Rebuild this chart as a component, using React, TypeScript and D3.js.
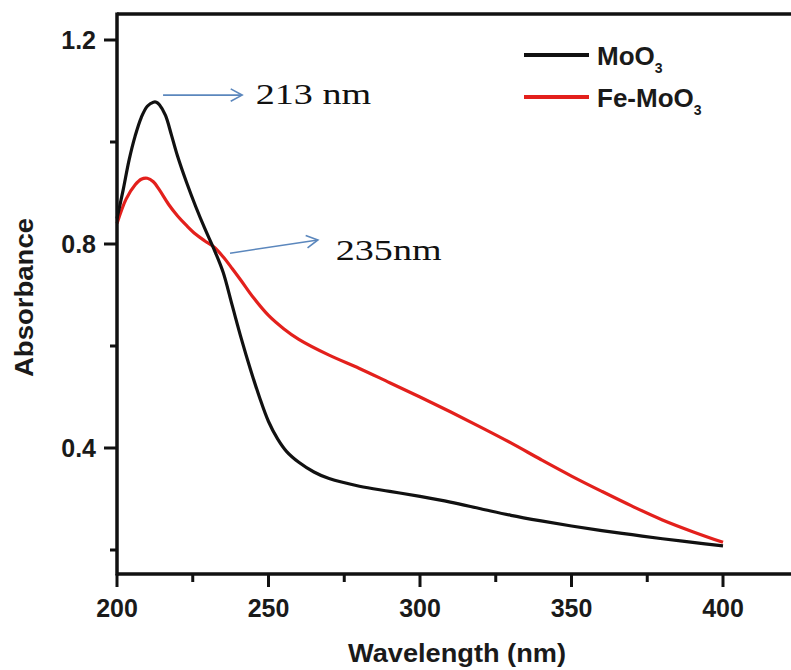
import React from "react";
import * as d3 from "d3";

const wavelengthMoO3 = [200, 202, 204, 206, 208, 210, 212, 213, 214, 216, 218, 220, 223, 226, 229, 232, 235, 238, 241, 244, 247, 250, 253, 256, 260, 265, 270, 280, 290, 300, 310, 320, 330, 340, 350, 360, 370, 380, 390, 400];
const absorbanceMoO3 = [0.85, 0.905, 0.965, 1.012, 1.048, 1.07, 1.078, 1.078, 1.073, 1.052, 1.013, 0.972, 0.92, 0.873, 0.83, 0.79, 0.745, 0.68, 0.615, 0.555, 0.5, 0.452, 0.418, 0.393, 0.372, 0.353, 0.34, 0.325, 0.315, 0.305, 0.294, 0.281, 0.268, 0.257, 0.247, 0.238, 0.23, 0.222, 0.215, 0.208];

const wavelengthFe = [200, 203, 206, 208, 210, 212, 214, 217, 220, 223, 226, 229, 232, 235, 238, 241, 245, 250, 255, 260, 270, 280, 290, 300, 310, 320, 330, 340, 350, 360, 370, 380, 390, 400];
const absorbanceFe = [0.84, 0.888, 0.916, 0.927, 0.929, 0.922, 0.906, 0.878, 0.855, 0.836, 0.819, 0.806, 0.794, 0.775, 0.752, 0.728, 0.695, 0.66, 0.634, 0.613, 0.582, 0.556, 0.528, 0.5, 0.471, 0.441, 0.41, 0.377, 0.345, 0.315, 0.286, 0.259, 0.236, 0.215];

const xMajorTicks = [200, 250, 300, 350, 400];
const xMinorTicks = [225, 275, 325, 375];
const yMajorTicks = [0.4, 0.8, 1.2];
const yMinorTicks = [0.2, 0.6, 1.0];

const seriesNames = ["MoO", "Fe-MoO"];
const seriesColors = ["#111111", "#e3201c"];

const annotations = [
  { from: [215.2, 1.092], to: [241.3, 1.092], label: "213 nm", at: [245.8, 1.074] },
  { from: [237.3, 0.782], to: [266.3, 0.808], label: "235nm", at: [272.2, 0.769] },
];

export default function App() {
  const left = 117;
  const right = 805;
  const top = 14;
  const bottom = 574;
  const x = d3.scaleLinear().domain([200, 200 + (right - left) / 3.03]).range([left, right]);
  const y = d3.scaleLinear().domain([0.4 - (bottom - 448) / 510, 0.4 + (448 - top) / 510]).range([bottom, top]);

  const line = d3
    .line<[number, number]>()
    .x((d) => x(d[0]))
    .y((d) => y(d[1]))
    .curve(d3.curveCatmullRom.alpha(0.5));

  const moo3 = wavelengthMoO3.map((w, i) => [w, absorbanceMoO3[i]] as [number, number]);
  const fe = wavelengthFe.map((w, i) => [w, absorbanceFe[i]] as [number, number]);

  const bold = { fontFamily: "Liberation Sans, Arial, sans-serif", fontWeight: 700 } as const;
  const arrowColor = "#5b87bd";

  return (
    <svg width={791} height={670} style={{ position: "absolute", left: 0, top: 0, background: "#fff" }}>
      {/* curves */}
      <path d={line(fe) || ""} fill="none" stroke={seriesColors[1]} strokeWidth={3.2} />
      <path d={line(moo3) || ""} fill="none" stroke={seriesColors[0]} strokeWidth={3.2} />

      {/* frame */}
      <line x1={left} x2={right} y1={top} y2={top} stroke="#111" strokeWidth={3.5} />
      <line x1={left} x2={left} y1={top - 1.5} y2={bottom + 1.5} stroke="#111" strokeWidth={3.5} />
      <line x1={left} x2={right} y1={bottom} y2={bottom} stroke="#111" strokeWidth={3.5} />

      {/* x ticks */}
      {xMajorTicks.map((t) => (
        <g key={"xm" + t}>
          <line x1={x(t)} x2={x(t)} y1={bottom} y2={bottom + 13} stroke="#111" strokeWidth={3} />
          <text x={x(t)} y={617} textAnchor="middle" fontSize={25} fill="#1a1a1a" {...bold}>
            {t}
          </text>
        </g>
      ))}
      {xMinorTicks.map((t) => (
        <line key={"xn" + t} x1={x(t)} x2={x(t)} y1={bottom} y2={bottom + 8} stroke="#111" strokeWidth={3} />
      ))}

      {/* y ticks */}
      {yMajorTicks.map((t) => (
        <g key={"ym" + t}>
          <line x1={left - 13} x2={left} y1={y(t)} y2={y(t)} stroke="#111" strokeWidth={3} />
          <text x={96} y={y(t) + 8.5} textAnchor="end" fontSize={25} fill="#1a1a1a" {...bold}>
            {t.toFixed(1)}
          </text>
        </g>
      ))}
      {yMinorTicks.map((t) => (
        <line key={"yn" + t} x1={left - 7} x2={left} y1={y(t)} y2={y(t)} stroke="#111" strokeWidth={3} />
      ))}

      {/* axis titles */}
      <text x={348} y={662} fontSize={26} fill="#1a1a1a" textLength={218} lengthAdjust="spacingAndGlyphs" {...bold}>
        Wavelength (nm)
      </text>
      <text
        transform={`translate(33, 377) rotate(-90)`}
        fontSize={26}
        fill="#1a1a1a"
        textLength={159}
        lengthAdjust="spacingAndGlyphs"
        {...bold}
      >
        Absorbance
      </text>

      {/* legend */}
      {seriesNames.map((name, i) => {
        const ly = 55 + i * 42;
        return (
          <g key={name}>
            <line x1={524} x2={589} y1={ly} y2={ly} stroke={seriesColors[i]} strokeWidth={3.8} />
            <text x={597} y={ly + 9.5} fontSize={26} fill="#1a1a1a" {...bold}>
              {name}
              <tspan fontSize={14} dy={8}>3</tspan>
            </text>
          </g>
        );
      })}

      {/* annotations */}
      {annotations.map((a) => {
        const x1 = x(a.from[0]);
        const y1 = y(a.from[1]);
        const x2 = x(a.to[0]);
        const y2 = y(a.to[1]);
        const ang = Math.atan2(y2 - y1, x2 - x1);
        const L = 13;
        const s = 0.5;
        const p1 = [x2 - L * Math.cos(ang - s), y2 - L * Math.sin(ang - s)];
        const p2 = [x2 - L * Math.cos(ang + s), y2 - L * Math.sin(ang + s)];
        return (
          <g key={a.label}>
            <line x1={x1} y1={y1} x2={x2} y2={y2} stroke={arrowColor} strokeWidth={1.6} />
            <path
              d={`M${p1[0]},${p1[1]}L${x2},${y2}L${p2[0]},${p2[1]}`}
              fill="none"
              stroke={arrowColor}
              strokeWidth={1.6}
            />
            <text
              transform={`translate(${x(a.at[0])}, ${y(a.at[1])}) scale(1.27, 1)`}
              fontSize={30}
              fill="#111"
              fontFamily="Liberation Serif, Times New Roman, serif"
            >
              {a.label}
            </text>
          </g>
        );
      })}
    </svg>
  );
}
